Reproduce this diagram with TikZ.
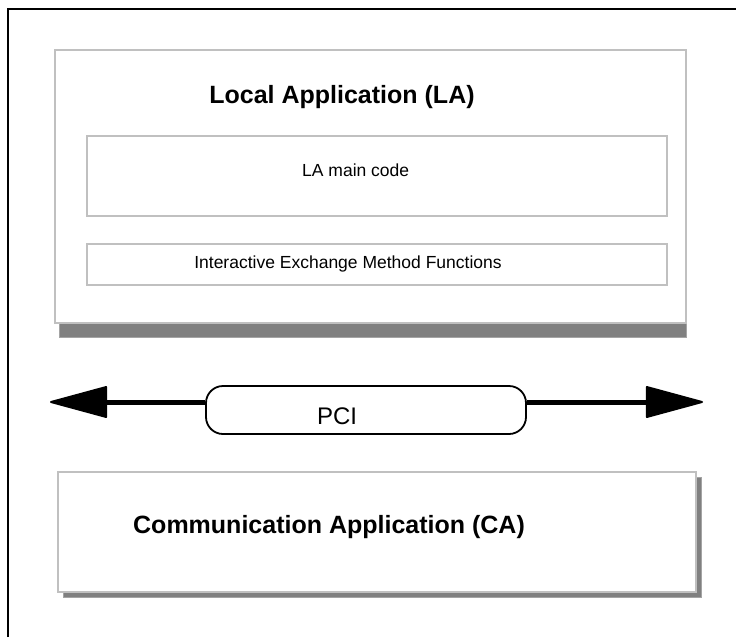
\documentclass[tikz,border=0pt]{standalone}
\usepackage{fontspec}
\setmainfont{Liberation Sans}
\usetikzlibrary{arrows.meta}
\definecolor{boxgray}{HTML}{C0C0C0}
\definecolor{shadowgray}{HTML}{808080}
\definecolor{shadowline}{HTML}{A4A4A4}
\begin{document}
\begin{tikzpicture}[x=1pt,y=-1pt,
  gbox/.style={draw=boxgray, line width=2pt, fill=white, inner sep=0pt},
  shad/.style={fill=shadowgray, draw=shadowline, line width=1pt, inner sep=0pt},
  bigtxt/.style={font=\fontsize{25}{30}\selectfont\bfseries, anchor=base, inner sep=0pt},
  smalltxt/.style={font=\fontsize{17.5}{21}\selectfont, anchor=base, inner sep=0pt},
  pcitxt/.style={font=\fontsize{24}{29}\selectfont, anchor=base, inner sep=0pt},
  pill/.style={draw, line width=1.8pt, fill=white, rounded corners=17pt, inner sep=0pt},
  bus/.style={line width=5pt, -{Triangle[length=60pt,width=32pt,line width=2pt,round]}}]
\useasboundingbox (0,0) rectangle (736,637);
% outer frame (top and left only)
\draw[line width=2pt] (7.5,637) -- (7.5,9) -- (736,9);
% Local Application
\node[shad, minimum width=627pt, minimum height=14pt] (lashadow) at (373,330.5) {};
\node[gbox, minimum width=631pt, minimum height=273pt] (la) at (370.5,186.5) {};
\node[gbox, minimum width=580pt, minimum height=80pt] (main) at (377,176) {};
\node[gbox, minimum width=580pt, minimum height=41pt] (iemf) at (377,264.5) {};
\node[bigtxt] (latitle) at (342,103) {Local Application (LA)};
\node[smalltxt] (lamain) at (355.7,176) {LA main code};
\node[smalltxt] (iem) at (348,268) {Interactive Exchange Method Functions};
% PCI bus
\node[pill, minimum width=320pt, minimum height=48pt] (pci) at (366,410) {};
\coordinate (al) at (50,402);
\coordinate (ar) at (703,402);
\draw[bus] ([yshift=8pt]pci.west) -- (al);
\draw[bus] ([yshift=8pt]pci.east) -- (ar);
\node[pcitxt] (pcilabel) at (337,424) {PCI};
% Communication Application
\node[shad, minimum width=638pt, minimum height=120pt] (cashadow) at (382.5,537.5) {};
\node[gbox, minimum width=638pt, minimum height=120pt] (ca) at (377,532) {};
\node[bigtxt] (catitle) at (329,533) {Communication Application (CA)};
\end{tikzpicture}
\end{document}
